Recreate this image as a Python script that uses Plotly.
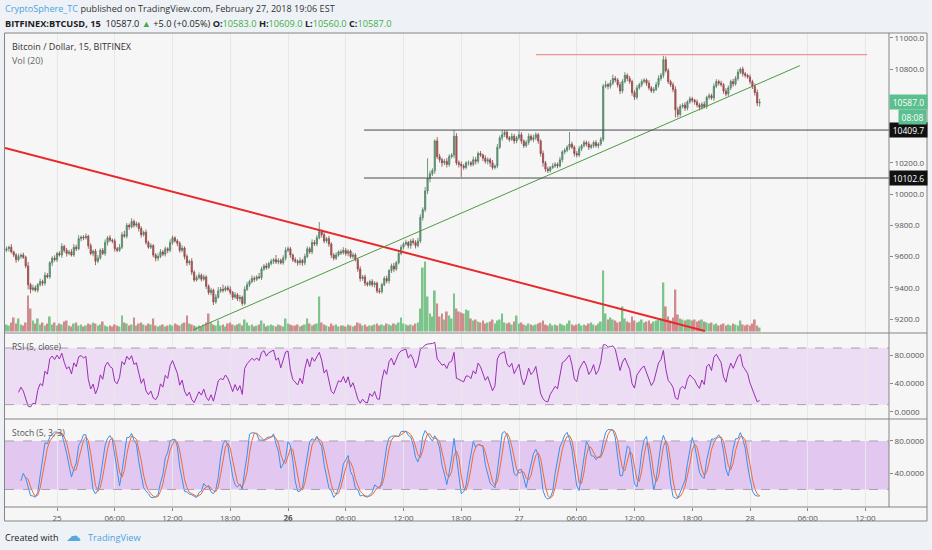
import numpy as np
import pandas as pd
import plotly.graph_objects as go

# 15-minute BTCUSD candles, Bitfinex, 24 Feb 18:45 -> 28 Feb 01:00 (UTC)
START = "2018-02-24 18:45"
FIRST_OPEN = 9640

closes = [
    9650, 9660, 9630, 9610, 9580, 9600, 9610, 9595,
    9540, 9420, 9390, 9400, 9385, 9420, 9440, 9430,
    9480, 9470, 9560, 9590, 9580, 9620, 9610, 9665,
    9640, 9620, 9630, 9610, 9660, 9650, 9715, 9725,
    9720, 9730, 9670, 9620, 9635, 9570, 9590, 9640,
    9620, 9690, 9720, 9705, 9700, 9650, 9640, 9660,
    9740, 9730, 9800, 9790, 9825, 9800, 9810, 9780,
    9740, 9755, 9690, 9660, 9670, 9610, 9590, 9600,
    9630, 9615, 9650, 9640, 9690, 9720, 9700, 9685,
    9640, 9655, 9600, 9560, 9570, 9500, 9450, 9465,
    9480, 9455, 9470, 9410, 9370, 9385, 9310, 9340,
    9380, 9390, 9385, 9400, 9390, 9370, 9340, 9355,
    9330, 9340, 9300, 9390, 9420, 9440, 9460, 9455,
    9470, 9465, 9520, 9540, 9530, 9555, 9570, 9580,
    9565, 9575, 9560, 9590, 9640, 9650, 9610, 9580,
    9570, 9560, 9575, 9560, 9600, 9650, 9630, 9690,
    9680, 9720, 9760, 9740, 9700, 9715, 9680, 9610,
    9590, 9610, 9630, 9625, 9640, 9620, 9635, 9600,
    9610, 9580, 9520, 9460, 9470, 9430, 9420, 9440,
    9420, 9430, 9380, 9375, 9420, 9460, 9445, 9510,
    9540, 9520, 9560, 9620, 9660, 9680, 9690, 9670,
    9700, 9690, 9670, 9700, 9850, 9900, 10020, 10100,
    10130, 10150, 10340, 10240, 10220, 10200, 10210, 10190,
    10240, 10250, 10370, 10200, 10190, 10180, 10170, 10200,
    10200, 10190, 10220, 10210, 10260, 10250, 10230, 10210,
    10220, 10200, 10170, 10180, 10300, 10360, 10380, 10395,
    10360, 10350, 10370, 10340, 10360, 10380, 10340, 10310,
    10330, 10370, 10350, 10360, 10380, 10340, 10260, 10200,
    10160, 10150, 10170, 10180, 10190, 10180, 10220, 10270,
    10280, 10300, 10320, 10300, 10260, 10250, 10290, 10310,
    10330, 10320, 10300, 10310, 10330, 10310, 10320, 10350,
    10690, 10700, 10690, 10710, 10740, 10730, 10700, 10660,
    10720, 10760, 10740, 10720, 10650, 10620, 10680, 10700,
    10720, 10730, 10710, 10680, 10660, 10670, 10700, 10740,
    10760, 10860, 10790, 10720, 10700, 10670, 10540, 10510,
    10560, 10570, 10550, 10590, 10610, 10600, 10590, 10570,
    10555, 10575, 10560, 10620, 10630, 10615, 10690, 10720,
    10710, 10700, 10660, 10640, 10680, 10720, 10705, 10740,
    10780, 10800, 10770, 10760, 10750, 10720, 10690, 10650,
    10583, 10587,
]

wick_up = [
    15, 10, 20, 8, 12, 18, 10, 15,
    10, 25, 12, 20, 15, 10, 18, 12,
    20, 15, 10, 12, 18, 10, 14, 20,
    10, 15, 12, 18, 20, 15, 22, 10,
    12, 18, 10, 15, 10, 14, 20, 12,
    15, 20, 12, 18, 10, 15, 12, 20,
    18, 25, 15, 12, 20, 12, 15, 10,
    14, 10, 18, 12, 15, 10, 12, 20,
    18, 12, 15, 10, 20, 15, 10, 12,
    12, 18, 10, 15, 10, 20, 12, 15,
    18, 12, 15, 10, 12, 15, 10, 20,
    25, 15, 30, 12, 15, 20, 10, 18,
    12, 15, 10, 20, 18, 12, 20, 15,
    10, 25, 15, 12, 18, 12, 15, 10,
    30, 15, 12, 18, 20, 15, 12, 10,
    15, 12, 20, 10, 18, 15, 12, 20,
    15, 18, 61, 12, 15, 10, 18, 12,
    12, 18, 10, 15, 20, 15, 12, 10,
    15, 12, 10, 18, 12, 15, 10, 12,
    15, 12, 10, 18, 12, 15, 18, 10,
    15, 20, 12, 18, 15, 12, 18, 10,
    12, 18, 15, 20, 20, 15, 25, 130,
    20, 15, 10, 25, 18, 12, 15, 20,
    15, 12, 40, 20, 15, 18, 12, 10,
    15, 12, 20, 18, 12, 15, 10, 18,
    15, 12, 18, 10, 20, 15, 30, 15,
    15, 12, 20, 15, 12, 25, 15, 10,
    15, 18, 12, 20, 15, 12, 10, 18,
    12, 15, 10, 18, 15, 12, 18, 10,
    15, 12, 77, 15, 12, 15, 18, 10,
    15, 12, 18, 12, 12, 15, 10, 15,
    15, 25, 12, 20, 25, 15, 12, 18,
    15, 20, 12, 15, 12, 15, 18, 12,
    15, 12, 10, 18, 12, 15, 18, 20,
    15, 25, 20, 15, 12, 15, 20, 18,
    15, 12, 18, 10, 15, 12, 10, 15,
    12, 15, 18, 10, 15, 12, 18, 15,
    12, 15, 10, 18, 15, 12, 18, 15,
    18, 10, 15, 12, 10, 15, 12, 18,
    20, 22,
]

wick_dn = [
    12, 18, 10, 15, 20, 12, 15, 10,
    15, 30, 25, 12, 10, 15, 12, 18,
    15, 10, 12, 20, 12, 15, 10, 18,
    15, 20, 12, 10, 12, 15, 10, 18,
    15, 10, 20, 12, 18, 25, 12, 10,
    10, 15, 20, 12, 15, 18, 12, 10,
    12, 10, 15, 18, 10, 15, 12, 20,
    18, 12, 15, 10, 12, 15, 20, 18,
    10, 12, 15, 18, 12, 15, 10, 18,
    15, 12, 18, 20, 15, 18, 12, 10,
    12, 15, 10, 18, 15, 18, 20, 12,
    10, 12, 15, 10, 12, 15, 18, 10,
    15, 20, 15, 12, 10, 15, 12, 18,
    12, 10, 15, 12, 15, 10, 12, 18,
    12, 15, 10, 12, 15, 12, 18, 15,
    12, 18, 15, 20, 15, 10, 12, 15,
    12, 15, 10, 18, 15, 12, 18, 20,
    15, 12, 10, 15, 12, 15, 18, 12,
    15, 12, 18, 20, 15, 18, 12, 10,
    15, 18, 15, 12, 12, 10, 15, 18,
    15, 20, 12, 10, 12, 15, 10, 18,
    20, 15, 18, 12, 15, 20, 15, 20,
    25, 15, 20, 15, 18, 25, 15, 20,
    15, 12, 20, 15, 20, 70, 15, 12,
    18, 15, 12, 20, 15, 12, 18, 15,
    20, 25, 15, 12, 15, 12, 18, 15,
    12, 15, 10, 18, 15, 12, 18, 15,
    12, 15, 10, 18, 15, 18, 20, 25,
    18, 15, 12, 10, 12, 15, 10, 18,
    15, 12, 18, 12, 20, 15, 12, 15,
    12, 15, 18, 12, 15, 12, 18, 12,
    15, 12, 20, 15, 12, 15, 18, 20,
    15, 12, 18, 15, 20, 18, 15, 12,
    15, 12, 18, 15, 12, 15, 10, 18,
    15, 18, 12, 15, 15, 18, 50, 20,
    15, 12, 18, 15, 12, 15, 18, 15,
    20, 15, 12, 15, 15, 12, 18, 12,
    15, 12, 18, 15, 12, 15, 18, 12,
    15, 12, 18, 15, 12, 15, 18, 20,
    20, 23,
]

volume = [
    70, 60, 90, 140, 80, 130, 70, 60,
    90, 360, 230, 110, 80, 130, 70, 90,
    60, 80, 150, 70, 90, 60, 80, 70,
    100, 110, 60, 50, 80, 90, 60, 70,
    50, 60, 80, 70, 90, 80, 60, 70,
    100, 60, 50, 60, 50, 70, 60, 50,
    160, 90, 80, 60, 70, 140, 60, 80,
    90, 70, 60, 80, 70, 130, 60, 50,
    60, 70, 50, 60, 70, 60, 80, 70,
    60, 80, 90, 160, 80, 70, 60, 50,
    60, 50, 70, 90, 180, 90, 70, 60,
    110, 60, 70, 50, 80, 90, 70, 60,
    70, 80, 60, 120, 90, 60, 70, 50,
    60, 70, 110, 80, 50, 60, 70, 60,
    50, 70, 60, 50, 130, 80, 70, 60,
    60, 70, 50, 60, 70, 130, 80, 60,
    70, 80, 350, 90, 70, 60, 50, 80,
    60, 70, 50, 60, 60, 50, 70, 60,
    50, 60, 90, 80, 60, 70, 50, 60,
    60, 70, 80, 60, 70, 60, 80, 70,
    60, 80, 70, 90, 140, 80, 70, 60,
    70, 60, 80, 90, 230, 640, 700, 350,
    180, 150, 410, 280, 150, 180, 120, 200,
    160, 130, 380, 230, 200, 190, 180, 220,
    210, 130, 110, 120, 100, 90, 110, 80,
    90, 100, 120, 80, 110, 120, 180, 90,
    80, 90, 70, 100, 160, 80, 90, 70,
    60, 80, 70, 60, 70, 80, 90, 110,
    70, 60, 80, 60, 70, 60, 80, 70,
    60, 80, 110, 70, 60, 70, 80, 60,
    70, 60, 80, 90, 70, 60, 80, 100,
    610, 180, 120, 140, 120, 110, 90, 100,
    250, 130, 100, 90, 150, 110, 90, 100,
    120, 90, 100, 110, 80, 100, 110, 120,
    130, 490, 250, 150, 110, 140, 420, 170,
    130, 120, 110, 120, 120, 110, 120, 100,
    110, 120, 100, 90, 80, 90, 70, 80,
    60, 70, 80, 60, 70, 60, 80, 70,
    60, 110, 70, 60, 70, 60, 80, 120,
    60, 40,
]

tick_times = ["2018-02-25 00:00", "2018-02-25 06:00", "2018-02-25 12:00", "2018-02-25 18:00",
              "2018-02-26 00:00", "2018-02-26 06:00", "2018-02-26 12:00", "2018-02-26 18:00",
              "2018-02-27 00:00", "2018-02-27 06:00", "2018-02-27 12:00", "2018-02-27 18:00",
              "2018-02-28 00:00", "2018-02-28 06:00", "2018-02-28 12:00"]
tick_labels = ["25", "06:00", "12:00", "18:00", "<b>26</b>", "06:00", "12:00", "18:00",
               "27", "06:00", "12:00", "18:00", "28", "06:00", "12:00"]

price_ticks = [9200, 9400, 9600, 9800, 10000, 10200, 10800, 11000]
levels = [10409.7, 10102.6]
resistance = 10892
red_trend = [("2018-02-24 18:36", 10295), ("2018-02-27 19:19", 9124)]
green_trend = [("2018-02-25 14:08", 9130), ("2018-02-28 05:11", 10822)]
level_start = "2018-02-26 07:54"
resistance_span = ("2018-02-27 01:46", "2018-02-28 12:10")

X_RANGE = ["2018-02-24 18:35:49", "2018-02-28 14:26:30"]

# ---- derived series ----
times = pd.date_range(START, periods=len(closes), freq="15min")
c = np.array(closes, dtype=float)
o = np.r_[FIRST_OPEN, c[:-1]]
h = np.maximum(o, c) + np.array(wick_up)
l = np.minimum(o, c) - np.array(wick_dn)


def rsi(x, n=5):
    d = np.diff(x)
    g = np.clip(d, 0, None)
    ls = np.clip(-d, 0, None)
    out = np.full(len(x), np.nan)
    ag, al = g[:n].mean(), ls[:n].mean()
    out[n] = 100 if al == 0 else 100 - 100 / (1 + ag / al)
    for i in range(n + 1, len(x)):
        ag = (ag * (n - 1) + g[i - 1]) / n
        al = (al * (n - 1) + ls[i - 1]) / n
        out[i] = 100 if al == 0 else 100 - 100 / (1 + ag / al)
    return out


rsi5 = rsi(c)
hh = pd.Series(h).rolling(5).max()
ll = pd.Series(l).rolling(5).min()
k_raw = 100 * (pd.Series(c) - ll) / (hh - ll)
stoch_k = k_raw.rolling(3).mean()
stoch_d = stoch_k.rolling(3).mean()

W, H = 932, 550


def fx(px):
    return px / W


def fy(py):
    return 1 - py / H


UP, DOWN = "#6ba583", "#c65a5a"
vol_colors = ["#7cc48c" if cc >= oo else "#cf8c8c" for oo, cc in zip(o, c)]

fig = go.Figure()
fig.add_trace(go.Bar(x=times, y=volume, marker_color=vol_colors, marker_line_width=0,
                     xaxis="x", yaxis="y4", hoverinfo="skip"))
fig.add_trace(go.Candlestick(
    x=times, open=o, high=h, low=l, close=c, xaxis="x", yaxis="y",
    increasing=dict(line=dict(color="#4f7f62", width=0.8), fillcolor=UP),
    decreasing=dict(line=dict(color="#8c4545", width=0.8), fillcolor=DOWN),
    whiskerwidth=0, hoverinfo="skip"))
fig.add_trace(go.Scatter(x=times, y=rsi5, mode="lines", line=dict(color="#9a2fb5", width=1),
                         xaxis="x2", yaxis="y2", hoverinfo="skip"))
fig.add_trace(go.Scatter(x=times, y=stoch_k, mode="lines", line=dict(color="#3d8fe8", width=1),
                         xaxis="x3", yaxis="y3", hoverinfo="skip"))
fig.add_trace(go.Scatter(x=times, y=stoch_d, mode="lines", line=dict(color="#ec6a3a", width=1),
                         xaxis="x3", yaxis="y3", hoverinfo="skip"))

xdom = [fx(5), fx(889)]
xcommon = dict(domain=xdom, range=X_RANGE, type="date", tickvals=tick_times, showgrid=True,
               gridcolor="#e8e8e8", gridwidth=1, zeroline=False, showline=False, fixedrange=True)
ytick = dict(size=8, color="#555555", family="Open Sans")

shapes = [
    dict(type="rect", xref="paper", yref="paper", x0=fx(4.5), x1=fx(927), y0=fy(521), y1=fy(33),
         fillcolor="#f6f6f6", line_width=0, layer="below"),
    dict(type="rect", xref="paper", yref="y2", x0=xdom[0], x1=xdom[1], y0=10, y1=90,
         fillcolor="#ecdcf4", line_width=0, layer="below"),
    dict(type="rect", xref="paper", yref="y3", x0=xdom[0], x1=xdom[1], y0=20, y1=80,
         fillcolor="#e2c8f1", line_width=0, layer="below"),
]
for yr, v in [("y2", 90), ("y2", 10), ("y3", 80), ("y3", 20)]:
    shapes.append(dict(type="line", xref="paper", yref=yr, x0=xdom[0], x1=xdom[1], y0=v, y1=v,
                       line=dict(color="#a8a0ae", width=1, dash="dash")))

# drawings on the price pane
shapes += [
    dict(type="line", xref="x", yref="y", x0=red_trend[0][0], y0=red_trend[0][1],
         x1=red_trend[1][0], y1=red_trend[1][1], line=dict(color="#e8282b", width=2)),
    dict(type="line", xref="x", yref="y", x0=green_trend[0][0], y0=green_trend[0][1],
         x1=green_trend[1][0], y1=green_trend[1][1], line=dict(color="#4f9a45", width=1)),
    dict(type="line", xref="x", yref="y", x0=resistance_span[0], x1=resistance_span[1],
         y0=resistance, y1=resistance, line=dict(color="#f07a7a", width=1)),
]
for lv in levels:
    shapes.append(dict(type="line", xref="x", yref="y", x0=level_start, x1=X_RANGE[1],
                       y0=lv, y1=lv, line=dict(color="#4a4a4a", width=1)))

# frame and pane separators
frame = "#858585"
shapes += [
    dict(type="rect", xref="paper", yref="paper", x0=fx(4.5), x1=fx(927), y0=fy(521), y1=fy(33),
         line=dict(color=frame, width=1)),
    dict(type="line", xref="paper", yref="paper", x0=fx(889), x1=fx(889), y0=fy(507), y1=fy(33),
         line=dict(color=frame, width=1)),
]
for py in (333, 419, 507):
    shapes.append(dict(type="line", xref="paper", yref="paper", x0=fx(4.5), x1=fx(927),
                       y0=fy(py), y1=fy(py), line=dict(color=frame, width=1)))

GREEN_TXT = "#3fae49"
header1 = ("<span style='color:#4aa3df'>CryptoSphere_TC</span> published on TradingView.com, "
           "February 27, 2018 19:06 EST")
header2 = ("<b>BITFINEX:BTCUSD, 15</b>  10587.0 <span style='color:%s'>▲</span> +5.0 (+0.05%%) "
           "<b>O:</b><span style='color:%s'>10583.0</span> <b>H:</b><span style='color:%s'>10609.0</span> "
           "<b>L:</b><span style='color:%s'>10560.0</span> <b>C:</b><span style='color:%s'>10587.0</span>"
           % ((GREEN_TXT,) * 5))


def label(px, py, text, size=9, color="#333333", anchor="left", family="Open Sans"):
    return dict(xref="paper", yref="paper", x=fx(px), y=fy(py), text=text, showarrow=False,
                xanchor=anchor, yanchor="middle", font=dict(size=size, color=color, family=family))


annotations = [
    label(3, 8.5, header1, 9.1),
    label(3, 23, header2, 9.2, "#222222"),
    label(10, 46.5, "Bitcoin / Dollar, 15, BITFINEX", 9, "#333333"),
    label(10, 60, "Vol (20)", 9, "#666666"),
    label(10, 346, "RSI (5, close)", 8.5, "#555555"),
    label(10, 432, "Stoch (5, 3, 3)", 8.5, "#555555"),
    label(3, 537, "Created with", 9, "#222222"),
    label(64, 536, "☁", 15, "#56a8e0", family="DejaVu Sans"),
    label(86, 537, "TradingView", 9.2, "#4aa3df"),
]
# price-scale tags
for val, txt, bg in [(10587.0, "10587.0", "#5cbf8f"), (levels[0], "10409.7", "#111111"),
                     (levels[1], "10102.6", "#111111")]:
    annotations.append(dict(xref="paper", yref="y", x=fx(889), y=val, text=txt, showarrow=False,
                            xanchor="left", yanchor="middle", bgcolor=bg, width=34, borderpad=1.5,
                            font=dict(size=8.5, color="white", family="Open Sans")))
annotations.append(dict(xref="paper", yref="paper", x=fx(927), y=fy(117), text="08:08",
                        showarrow=False, xanchor="right", yanchor="middle", bgcolor="#5cbf8f",
                        width=24, borderpad=1.5, font=dict(size=8.5, color="white", family="Open Sans")))

fig.update_layout(
    width=W, height=H, margin=dict(l=0, r=0, t=0, b=0),
    paper_bgcolor="#eef2f6", plot_bgcolor="rgba(0,0,0,0)",
    showlegend=False, hovermode=False, bargap=0.25,
    xaxis=dict(xcommon, anchor="y", showticklabels=False, rangeslider=dict(visible=False)),
    xaxis2=dict(xcommon, anchor="y2", showticklabels=False, matches="x"),
    xaxis3=dict(xcommon, anchor="y3", showticklabels=True, matches="x", ticktext=tick_labels,
                ticks="outside", ticklen=3, tickcolor="#888888", tickfont=ytick),
    yaxis=dict(domain=[fy(333), fy(33)], range=[9110.8, 11030.8], side="right", anchor="x",
               tickvals=price_ticks, ticktext=["%.1f" % v for v in price_ticks], ticks="outside",
               ticklen=3, tickcolor="#888888", tickfont=ytick, showgrid=False, zeroline=False,
               fixedrange=True),
    yaxis4=dict(overlaying="y", range=[-15, 2985], visible=False, fixedrange=True),
    yaxis2=dict(domain=[fy(419), fy(333)], range=[-10.3, 111.2], side="right", anchor="x2",
                tickvals=[0, 40, 80], ticktext=["0.0000", "40.0000", "80.0000"], ticks="outside",
                ticklen=3, tickcolor="#888888", tickfont=ytick, showgrid=False, zeroline=False),
    yaxis3=dict(domain=[fy(507), fy(419)], range=[-1.7, 107.2], side="right", anchor="x3",
                tickvals=[40, 80], ticktext=["40.0000", "80.0000"], ticks="outside",
                ticklen=3, tickcolor="#888888", tickfont=ytick, showgrid=False, zeroline=False),
    shapes=shapes, annotations=annotations,
)

# the page's default 8px body margin would push the 932x550 figure out of the window
fig.write_html("out.html", config={"displayModeBar": False},
               post_script="document.body.style.margin='0px';"
                           "document.body.style.overflow='hidden';")
